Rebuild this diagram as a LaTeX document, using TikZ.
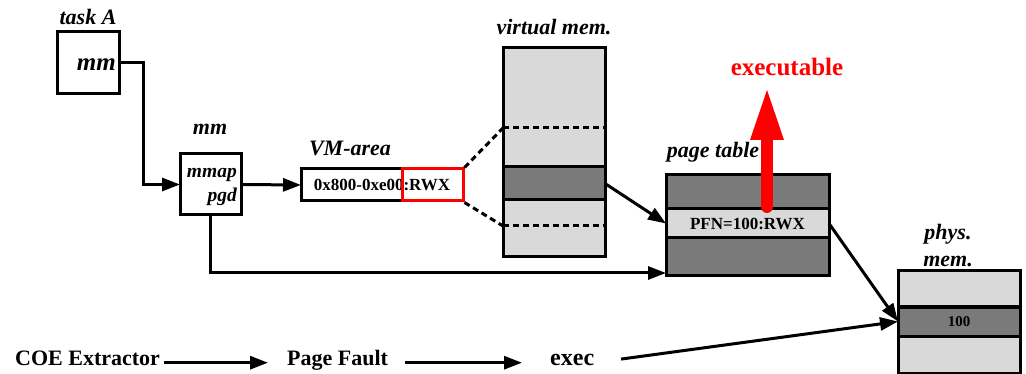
\documentclass[tikz,border=0pt]{standalone}
\usepackage{fontspec}
\setmainfont{Liberation Serif}
\usetikzlibrary{arrows.meta}
\definecolor{lightcell}{HTML}{D9D9D9}
\definecolor{darkcell}{HTML}{7A7A7A}
\definecolor{alertred}{HTML}{FF0000}

\begin{document}
\begin{tikzpicture}[x=1pt,y=-1pt,
  box/.style={draw=black,line width=3pt,inner sep=0pt,outer sep=0pt},
  lightbox/.style={box,fill=lightcell},
  darkbox/.style={box,fill=darkcell},
  title/.style={inner sep=0pt,font=\fontsize{22}{26}\selectfont\bfseries\itshape},
  smallital/.style={inner sep=0pt,font=\fontsize{19.5}{23}\selectfont\bfseries\itshape},
  celltext/.style={font=\fontsize{17}{20}\selectfont\bfseries},
  flowtext/.style={inner sep=0pt,font=\fontsize{22}{26}\selectfont\bfseries},
  arr/.style={line width=3pt,-{Triangle[length=18pt,width=13pt]}},
  link/.style={line width=3pt},
  dashline/.style={line width=3pt,dash pattern=on 6pt off 4pt},
]
\useasboundingbox (0,0) rectangle (1026,374);

% task A
\node[box,minimum width=62pt,minimum height=62pt] (taskA) at (88,63) {};
\node[title,anchor=base] (taskAlabel) at (88,25) {task A};
\node[title,font=\fontsize{25}{28}\selectfont\bfseries\itshape,anchor=base east] (taskAmm) at (116,71) {mm};

% mm structure
\node[box,minimum width=61pt,minimum height=61pt] (mm) at (210.5,184.5) {};
\node[title,anchor=base] (mmlabel) at (210,135) {mm};
\node[smallital,anchor=base east] (mmap) at (237,178) {mmap};
\node[smallital,anchor=base east] (pgd) at (237,202) {pgd};

% VM area
\node[box,celltext,minimum width=162pt,minimum height=32pt] (vma) at (382,185) {0x800-0xe00:RWX};
\node[draw=alertred,line width=3pt,inner sep=0pt,minimum width=61pt,minimum height=32pt] (rwx) at (432.5,185) {};
\node[title,anchor=base] (vmalabel) at (350,156) {VM-area};

% virtual memory
\node[lightbox,minimum width=102pt,minimum height=119pt] (vmA) at (554,107.5) {};
\node[darkbox,minimum width=102pt,minimum height=33pt] (vmB) at (554,183.5) {};
\node[lightbox,minimum width=102pt,minimum height=57pt] (vmC) at (554,228.5) {};
\node[title,anchor=base] (vmlabel) at (554,35) {virtual mem.};
\coordinate (vmTopW) at (503,128);
\coordinate (vmTopE) at (605,128);
\coordinate (vmBotW) at (503,226);
\coordinate (vmBotE) at (605,226);
\draw[dashline] (vmTopW) -- (vmTopE);
\draw[dashline] (vmBotW) -- (vmBotE);
\draw[dashline] (rwx.north east) -- (vmTopW);
\draw[dashline] (rwx.south east) -- (vmBotW);

% page table
\node[darkbox,minimum width=163pt,minimum height=34pt] (ptA) at (747.5,192) {};
\node[lightbox,celltext,minimum width=163pt,minimum height=29pt] (ptB) at (747.5,223.5) {PFN=100:RWX};
\node[darkbox,minimum width=163pt,minimum height=38pt] (ptC) at (747.5,257) {};
\node[title,anchor=base] (ptlabel) at (713,158) {page table};

% physical memory
\node[lightbox,minimum width=122pt,minimum height=36pt] (pmA) at (959,289) {};
\node[darkbox,celltext,font=\fontsize{15}{18}\selectfont\bfseries,minimum width=122pt,minimum height=29pt] (pmB) at (959,321.5) {100};
\node[lightbox,minimum width=122pt,minimum height=37pt] (pmC) at (959,354.5) {};
\node[title,anchor=base] (pmlabel1) at (948,240) {phys.};
\node[title,anchor=base] (pmlabel2) at (948,267) {mem.};

% flow along the bottom
\node[flowtext,anchor=base west] (coe) at (15,365) {COE Extractor};
\node[flowtext,anchor=base west] (pf) at (287,365) {Page Fault};
\node[flowtext,font=\fontsize{24}{28}\selectfont\bfseries,anchor=base west] (exec) at (550,365) {exec};

% connectors
\draw[arr] (taskA.east) -- ++(24,0) |- (mm.west);
\draw[arr] (mm.east) -- (vma.west);
\draw[arr] (mm.south) |- ([yshift=3pt]ptC.south west);
\draw[arr] (vmB.east) -- (ptB.west);
\draw[arr] (ptB.east) -- (pmB.west);
\draw[arr,shorten <=4pt,shorten >=19pt] (coe.mid east) -- (pf.mid west);
\draw[arr,shorten <=17pt,shorten >=28pt] (pf.mid east) -- (exec.mid west);
\draw[arr,shorten <=27pt] (exec.mid east) -- (pmB.west);

% executable flag
\coordinate (exBase) at (767,207);
\coordinate (exTip) at (767,90);
\draw[alertred,line width=12pt,line cap=round,-{Triangle[length=50pt,width=34pt,line width=0pt]}] (exBase) -- (exTip);
\node[flowtext,text=alertred,font=\fontsize{25}{29}\selectfont\bfseries,anchor=base] (exlabel) at (787,76) {executable};
\end{tikzpicture}
\end{document}
